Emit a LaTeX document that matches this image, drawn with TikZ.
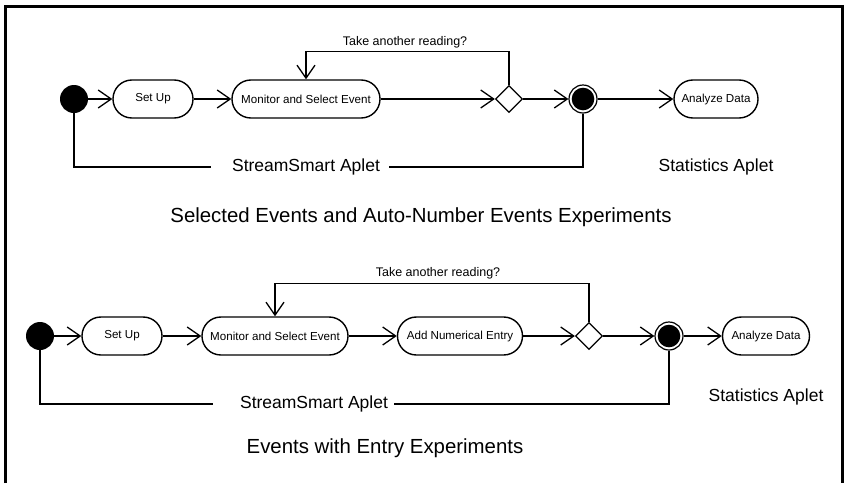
\documentclass[tikz,border=0pt]{standalone}
\usepackage{fontspec}
\setmainfont{Liberation Sans}
\usetikzlibrary{arrows.meta,shapes.geometric}
\begin{document}
\begin{tikzpicture}[x=1pt,y=-1pt,
  act/.style={draw, line width=1.4pt, rounded corners=18.9pt, minimum height=38pt, inner sep=0pt, fill=white, font=\fontsize{11.6}{13}\selectfont},
  startnode/.style={circle, fill=black, minimum size=28pt, inner sep=0pt},
  endnode/.style={circle, draw, line width=1.2pt, minimum size=28pt, inner sep=0pt,
    path picture={\fill (path picture bounding box.center) circle (11.3pt);}},
  decision/.style={diamond, draw, line width=1.3pt, minimum size=27pt, inner sep=0pt, fill=white},
  flow/.style={line width=1.3pt, -{Straight Barb[length=13pt,width=18pt,line width=1.3pt]}},
  link/.style={line width=1.3pt},
  biglabel/.style={font=\fontsize{17.5}{20}\selectfont, inner sep=0pt},
  titlelabel/.style={font=\fontsize{20.4}{24}\selectfont, inner sep=0pt},
  guard/.style={font=\fontsize{12.5}{14}\selectfont, inner sep=0pt}
]
\useasboundingbox (0,0) rectangle (847,483);
\fill[white] (0,0) rectangle (847,483);
% frame
\draw[line width=3pt] (5,483) -- (5,6.5) -- (842,6.5) -- (842,483);

% ---------- top diagram ----------
\node[startnode] (i1) at (74,99) {};
\node[act, minimum width=80pt] (s1) at (153,99) {Set Up};
\node[act, minimum width=148pt] (m1) at (306,99) {Monitor and Select Event};
\node[decision] (d1) at (509,99) {};
\node[endnode] (f1) at (583,99) {};
\node[act, minimum width=84pt] (a1) at (716,99) {Analyze Data};

\draw[flow] (i1) -- (s1);
\draw[flow] (s1) -- (m1);
\draw[flow] (m1) -- (d1.west);
\draw[flow] (d1.east) -- (f1);
\draw[flow] (f1) -- (a1);
\draw[flow] (d1.north) -- ++(0,-33.5) -| (m1.north);
\node[guard] (g1) at (405,42) {Take another reading?};

\node[biglabel] (sa1) at (306,167) {StreamSmart Aplet};
\draw[link] (i1.south) |- ([xshift=-21pt]sa1.west);
\draw[link] ([xshift=9pt]sa1.east) -| (f1.south);
\node[biglabel] (st1) at (716,167) {Statistics Aplet};
\node[titlelabel] (t1) at (421,217) {Selected Events and Auto-Number Events Experiments};

% ---------- bottom diagram ----------
\node[startnode] (i2) at (40,336) {};
\node[act, minimum width=80pt] (s2) at (122,336) {Set Up};
\node[act, minimum width=146pt] (m2) at (275,336) {Monitor and Select Event};
\node[act, minimum width=125pt] (n2) at (460,336) {Add Numerical Entry};
\node[decision] (d2) at (589,336) {};
\node[endnode] (f2) at (669,336) {};
\node[act, minimum width=87pt] (a2) at (766,336) {Analyze Data};

\draw[flow] (i2) -- (s2);
\draw[flow] (s2) -- (m2);
\draw[flow] (m2) -- (n2);
\draw[flow] (n2) -- (d2.west);
\draw[flow] (d2.east) -- (f2);
\draw[flow] (f2) -- (a2);
\draw[flow] (d2.north) -- ++(0,-38.5) -| (m2.north);
\node[guard] (g2) at (438,273) {Take another reading?};

\node[biglabel] (sa2) at (314,404) {StreamSmart Aplet};
\draw[link] (i2.south) |- ([xshift=-27pt]sa2.west);
\draw[link] ([xshift=6pt]sa2.east) -| (f2.south);
\node[biglabel] (st2) at (766,397) {Statistics Aplet};
\node[titlelabel] (t2) at (385,448) {Events with Entry Experiments};
\end{tikzpicture}
\end{document}
